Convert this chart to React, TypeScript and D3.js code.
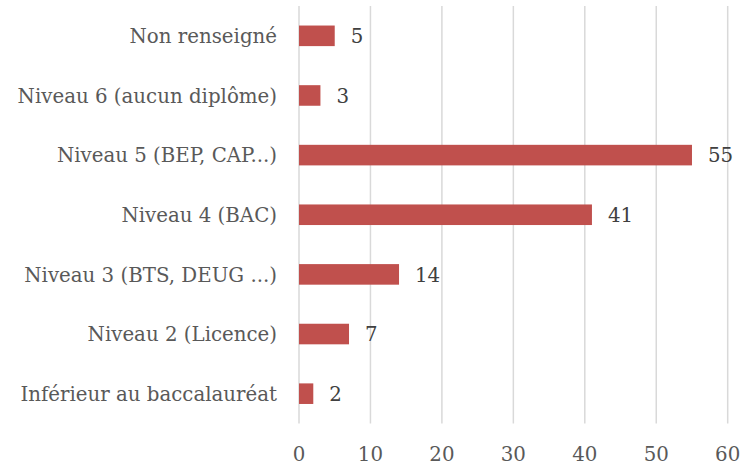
import React from "react";
import * as d3 from "d3";

const categories = [
  "Non renseigné",
  "Niveau 6 (aucun diplôme)",
  "Niveau 5 (BEP, CAP...)",
  "Niveau 4 (BAC)",
  "Niveau 3 (BTS, DEUG ...)",
  "Niveau 2 (Licence)",
  "Inférieur au baccalauréat",
];
const values = [5, 3, 55, 41, 14, 7, 2];
const xTicks = [0, 10, 20, 30, 40, 50, 60];

const W = 755;
const H = 466;
const left = 299;
const right = 727.7;
const top = 6;
const bottom = 423.5;
const FONT = "'DejaVu Serif', serif";
const FS = 19.8;

export default function App() {
  const x = d3.scaleLinear().domain([0, 60]).range([left, right]);
  const y = d3
    .scaleBand<string>()
    .domain(categories)
    .range([top, bottom])
    .paddingInner(0.655)
    .paddingOuter(0.3275);

  return (
    <svg
      width={W}
      height={H}
      style={{ position: "absolute", left: 0, top: 0, background: "#fff" }}
    >
      {xTicks.map((t) => (
        <line
          key={"g" + t}
          x1={x(t)}
          x2={x(t)}
          y1={top}
          y2={bottom}
          stroke="#d9d9d9"
          strokeWidth={1.5}
        />
      ))}
      {categories.map((c, i) => {
        const yy = y(c)!;
        const bw = y.bandwidth();
        return (
          <g key={c}>
            <rect
              x={x(0)}
              y={yy}
              width={x(values[i]) - x(0)}
              height={bw}
              fill="#C0504D"
            />
            <text
              x={x(values[i]) + 16}
              y={yy + bw / 2}
              dy="0.36em"
              fontFamily={FONT}
              fontSize={FS}
              fill="#404040"
            >
              {values[i]}
            </text>
            <text
              x={277}
              y={yy + bw / 2}
              dy="0.36em"
              textAnchor="end"
              fontFamily={FONT}
              fontSize={FS}
              fill="#595959"
            >
              {c}
            </text>
          </g>
        );
      })}
      {xTicks.map((t) => (
        <text
          key={"t" + t}
          x={x(t)}
          y={454}
          dy="0.36em"
          textAnchor="middle"
          fontFamily={FONT}
          fontSize={FS}
          fill="#595959"
        >
          {t}
        </text>
      ))}
    </svg>
  );
}
